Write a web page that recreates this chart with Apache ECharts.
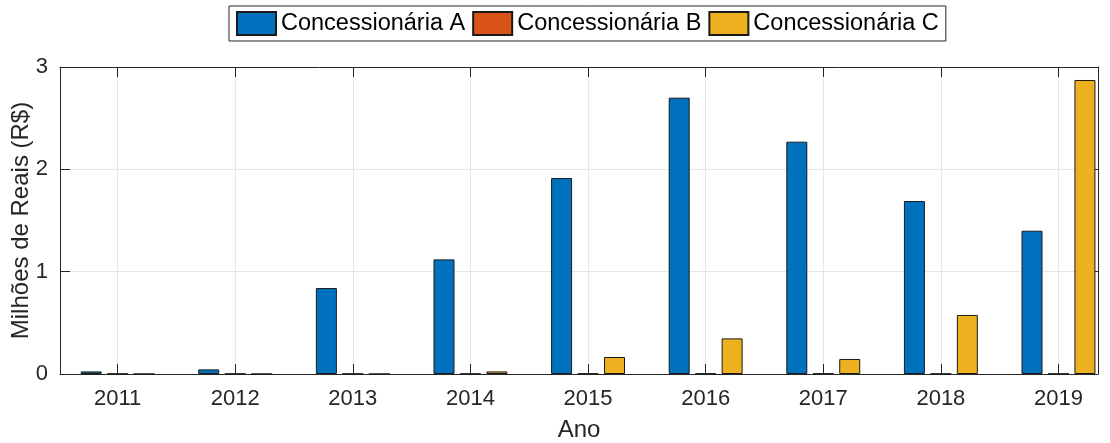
<!DOCTYPE html>
<html>
<head>
<meta charset="utf-8">
<script src="https://cdn.jsdelivr.net/npm/echarts@6/dist/echarts.min.js"></script>
<style>
html,body{margin:0;padding:0;background:#fff;}
#chart{width:1110px;height:443px;}
</style>
</head>
<body>
<div id="chart"></div>
<script>
const years = [2011, 2012, 2013, 2014, 2015, 2016, 2017, 2018, 2019];
const seriesNames = ['Concessionária A', 'Concessionária B', 'Concessionária C'];
const valuesA = [0.025, 0.045, 0.84, 1.12, 1.915, 2.70, 2.27, 1.69, 1.40];
const valuesB = [0.003, 0.003, 0.003, 0.003, 0.004, 0.004, 0.004, 0.003, 0.003];
const valuesC = [0.0, 0.0, 0.0, 0.025, 0.166, 0.348, 0.147, 0.577, 2.873];
const yTicks = [0, 1, 2, 3];
const colors = ['#0072BD', '#D95319', '#EDB120'];

const font = 'Liberation Sans, Arial, Helvetica, sans-serif';
const axisColor = '#262626';

const chart = echarts.init(document.getElementById('chart'), null, {renderer: 'canvas'});

function mk(vals, i) {
  return {
    name: seriesNames[i],
    type: 'bar',
    barWidth: 21,
    barGap: '26%',
    data: years.map((y, k) => [y, vals[k]]),
    itemStyle: {color: colors[i], borderColor: '#1a1a1a', borderWidth: 1},
    emphasis: {disabled: true},
    animation: false
  };
}

const xCommon = {
  type: 'value',
  min: 2010.51,
  max: 2019.336,
  splitNumber: 9,
  axisLine: {show: true, onZero: false, lineStyle: {color: axisColor, width: 1}},
  axisTick: {show: true, inside: true, length: 10, lineStyle: {color: axisColor}},
  minorTick: {show: false}
};

const yCommon = {
  type: 'value',
  min: yTicks[0],
  max: yTicks[yTicks.length - 1],
  interval: 1,
  axisLine: {show: true, lineStyle: {color: axisColor, width: 1}},
  axisTick: {show: true, inside: true, length: 10, lineStyle: {color: axisColor}}
};

chart.setOption({
  animation: false,
  textStyle: {fontFamily: font},
  legend: {
    left: 229,
    top: 6,
    orient: 'horizontal',
    padding: [5, 7, 5, 7],
    itemGap: 7,
    itemWidth: 39,
    itemHeight: 23,
    borderColor: axisColor,
    borderWidth: 1,
    backgroundColor: '#fff',
    textStyle: {fontSize: 23.5, color: '#000', fontFamily: font, padding: [0, 0, 0, 0]},
    icon: 'rect',
    selectedMode: false,
    data: seriesNames
  },
  grid: {left: 60, right: 12, top: 67, bottom: 69, containLabel: false, outerBoundsMode: 'none'},
  xAxis: [
    Object.assign({}, xCommon, {
      position: 'bottom',
      name: 'Ano',
      nameLocation: 'middle',
      nameGap: 44,
      nameMoveOverlap: false,
      nameTextStyle: {fontSize: 24, color: axisColor, fontFamily: font},
      axisLabel: {
        show: true, fontSize: 22, color: axisColor, margin: 14, fontFamily: font,
        showMinLabel: false, showMaxLabel: false,
        formatter: v => (Math.abs(v - Math.round(v)) < 1e-6 ? String(Math.round(v)) : '')
      },
      splitLine: {show: true, lineStyle: {color: '#e6e6e6', width: 1}}
    }),
    Object.assign({}, xCommon, {
      position: 'top',
      axisLabel: {show: false},
      splitLine: {show: false}
    })
  ],
  yAxis: [
    Object.assign({}, yCommon, {
      position: 'left',
      name: 'Milhões de Reais (R$)',
      nameLocation: 'middle',
      nameGap: 27,
      nameMoveOverlap: false,
      nameTextStyle: {fontSize: 24, color: axisColor, fontFamily: font},
      axisLabel: {show: true, fontSize: 22, color: axisColor, margin: 12, fontFamily: font},
      splitLine: {show: true, lineStyle: {color: '#e6e6e6', width: 1}}
    }),
    Object.assign({}, yCommon, {
      position: 'right',
      axisLabel: {show: false},
      splitLine: {show: false}
    })
  ],
  series: [mk(valuesA, 0), mk(valuesB, 1), mk(valuesC, 2)]
});
</script>
</body>
</html>
